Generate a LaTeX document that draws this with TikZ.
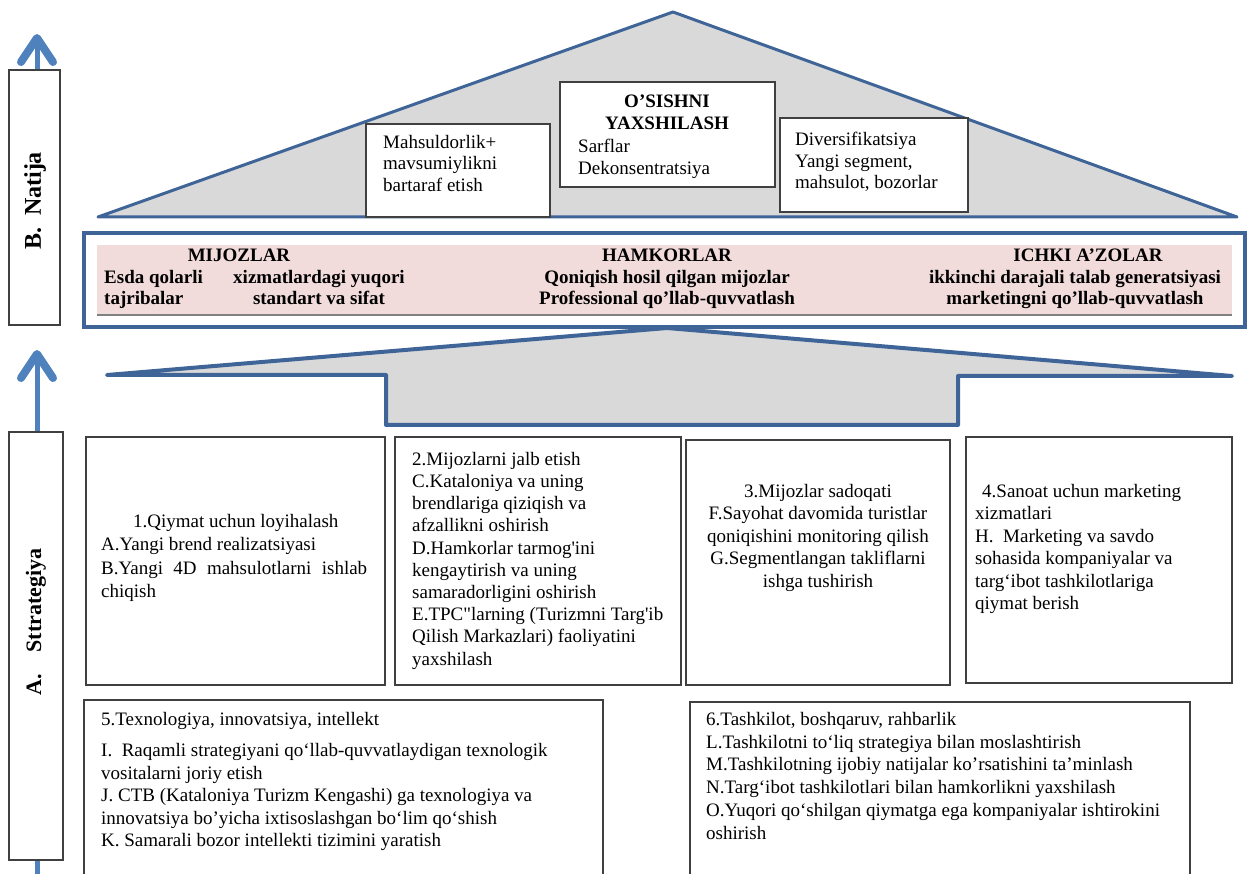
\documentclass[tikz,border=0pt]{standalone}
\usepackage{fontspec}
\setmainfont{Liberation Serif}
\usetikzlibrary{arrows.meta}
\definecolor{roofblue}{HTML}{3F6598}
\definecolor{arrowblue}{HTML}{4F81BD}
\definecolor{roofgray}{HTML}{D9D9D9}
\definecolor{bandpink}{HTML}{F2DCDB}
\tikzset{
  boxline/.style={draw=black!75, line width=1.4pt, fill=white},
  btxt/.style={font=\fontsize{19}{22.5}\selectfont, align=left, inner sep=0pt, anchor=north west},
  rooftxt/.style={font=\fontsize{19}{21.5}\selectfont, align=left, inner sep=0pt, anchor=north west},
  bandtxt/.style={font=\fontsize{19}{21.5}\selectfont\bfseries, align=center, inner sep=0pt, anchor=north},
  sidetxt/.style={font=\fontsize{24}{26}\selectfont\bfseries, inner sep=0pt, rotate=90},
  uparrow/.style={arrowblue, line width=5pt, -{Straight Barb[length=24pt,width=32pt,line width=8pt,round]}}
}
\begin{document}
\begin{tikzpicture}[x=1pt,y=-1pt]
\useasboundingbox (0,0) rectangle (1251,874);
% left arrows and labels
\draw[uparrow] (37,880) -- (37,350);
\draw[uparrow] (37,200) -- (37,34);
\draw[boxline] (9,70) rectangle (60,325);
\node[sidetxt] (natija) at (35,201) {B.\ \ Natija};
\draw[boxline] (9,432) rectangle (63,860);
\node[sidetxt, font=\fontsize{22}{26}\selectfont\bfseries] (strategiya) at (36,622) {A.\quad Sttrategiya};

% roof
\filldraw[fill=roofgray, draw=roofblue, line width=3pt, line join=round] (98,217) -- (673,12) -- (1237,217) -- cycle;
\draw[boxline] (366,124) rectangle (550,217);
\node[rooftxt] (mahsul) at (383,135) {Mahsuldorlik+\\mavsumiylikni\\bartaraf etish};
\draw[boxline] (560,82) rectangle (775,187);
\node[rooftxt, font=\fontsize{19}{21.5}\selectfont\bfseries, align=center, anchor=north] (osish) at (667,95) {O’SISHNI\\YAXSHILASH};
\node[rooftxt] (sarflar) at (578,139) {Sarflar\\Dekonsentratsiya};
\draw[boxline] (780,118) rectangle (968,212);
\node[rooftxt] (divers) at (795,132) {Diversifikatsiya\\Yangi segment,\\mahsulot, bozorlar};

% middle arrow
\filldraw[fill=roofgray, draw=roofblue, line width=4pt, line join=round] (107,375) -- (667,328) -- (1232,376) -- (958,376) -- (958,425) -- (386,425) -- (386,375) -- cycle;

% band
\draw[roofblue, line width=4pt, fill=white] (84,233) rectangle (1245,327);
\fill[bandpink] (97,245) rectangle (1232,315);
\draw[black!50, line width=1.5pt] (97,315) -- (1232,315);
\node[bandtxt] (mijoz) at (239,249) {MIJOZLAR};
\node[bandtxt, align=left, anchor=north west] (esda) at (104,270) {Esda qolarli\\tajribalar};
\node[bandtxt] (xizmat) at (319,270) {xizmatlardagi yuqori\\standart va sifat};
\node[bandtxt] (hamkor) at (667,249) {HAMKORLAR\\Qoniqish hosil qilgan mijozlar\\Professional qo’llab-quvvatlash};
\node[bandtxt] (ichki) at (1088,249) {ICHKI A’ZOLAR};
\node[bandtxt] (ikkinchi) at (1075,270) {ikkinchi darajali talab generatsiyasi\\marketingni qo’llab-quvvatlash};

% strategy boxes
\draw[boxline] (86,437) rectangle (385,685);
\node[btxt, font=\fontsize{19}{23.5}\selectfont] (qiymat) at (101,514) {\hspace*{32pt}1.Qiymat uchun loyihalash\\A.Yangi brend realizatsiyasi\\\makebox[266pt][s]{B.Yangi 4D mahsulotlarni ishlab}\\chiqish};
\draw[boxline] (395,437) rectangle (681,685);
\node[btxt, font=\fontsize{19}{22.2}\selectfont] (jalb) at (412,452) {2.Mijozlarni jalb etish\\C.Kataloniya va uning\\brendlariga qiziqish va\\afzallikni oshirish\\D.Hamkorlar tarmog\textquotesingle ini\\kengaytirish va uning\\samaradorligini oshirish\\E.TPC\textquotedbl larning (Turizmni Targ\textquotesingle ib\\Qilish Markazlari) faoliyatini\\yaxshilash};
\draw[boxline] (686,440) rectangle (950,685);
\node[btxt, align=center, anchor=north] (sadoqat) at (818,484) {3.Mijozlar sadoqati\\F.Sayohat davomida turistlar\\qoniqishini monitoring qilish\\G.Segmentlangan takliflarni\\ishga tushirish};
\draw[boxline] (966,437) rectangle (1232,683);
\node[btxt] (sanoat) at (975,484) {\hspace*{7pt}4.Sanoat uchun marketing\\xizmatlari\\H.\ \ Marketing va savdo\\sohasida kompaniyalar va\\targ‘ibot tashkilotlariga\\qiymat berish};
\draw[boxline] (84,700) rectangle (603,880);
\node[btxt] (texno) at (101,712) {5.Texnologiya, innovatsiya, intellekt\\[9pt]I.\ \ Raqamli strategiyani qo‘llab-quvvatlaydigan texnologik\\vositalarni joriy etish\\J. CTB (Kataloniya Turizm Kengashi) ga texnologiya va\\innovatsiya bo’yicha ixtisoslashgan bo‘lim qo‘shish\\K. Samarali bozor intellekti tizimini yaratish};
\draw[boxline] (690,702) rectangle (1190,880);
\node[btxt, font=\fontsize{19}{22.8}\selectfont] (tashkilot) at (706,712) {6.Tashkilot, boshqaruv, rahbarlik\\L.Tashkilotni to‘liq strategiya bilan moslashtirish\\M.Tashkilotning ijobiy natijalar ko’rsatishini ta’minlash\\N.Targ‘ibot tashkilotlari bilan hamkorlikni yaxshilash\\O.Yuqori qo‘shilgan qiymatga ega kompaniyalar ishtirokini\\oshirish};
\end{tikzpicture}
\end{document}
